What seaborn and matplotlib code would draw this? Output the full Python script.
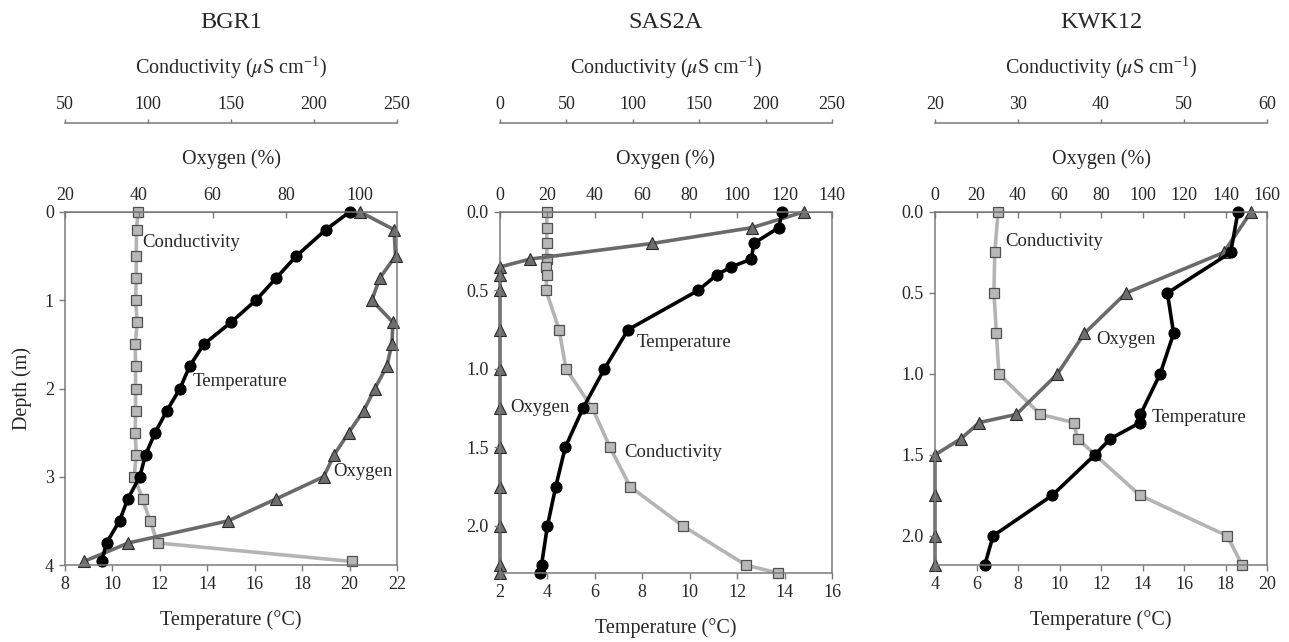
import pandas as pd
import seaborn as sns
import matplotlib.pyplot as plt
from matplotlib.ticker import MultipleLocator, FormatStrFormatter

sns.set_style("ticks")
plt.rcParams["font.family"] = ["Liberation Serif", "DejaVu Serif"]
plt.rcParams["mathtext.fontset"] = "stix"

sites = ["BGR1", "SAS2A", "KWK12"]

# BGR1
bgr1_depth = [0, 0.2, 0.5, 0.75, 1.0, 1.25, 1.5, 1.75, 2.0, 2.25, 2.5, 2.75, 3.0, 3.25, 3.5, 3.75, 3.96]
bgr1_temp = [20.0, 19.0, 17.75, 16.9, 16.05, 15.0, 13.85, 13.25, 12.85, 12.3, 11.8, 11.4, 11.15, 10.65, 10.3, 9.75, 9.55]
bgr1_oxygen = [100.0, 109.2, 109.6, 105.3, 103.2, 108.9, 108.6, 107.2, 104.0, 101.0, 96.9, 93.0, 90.1, 77.3, 64.2, 37.2, 25.1]
bgr1_cond = [93.9, 93.1, 92.9, 92.9, 92.5, 93.5, 92.3, 92.5, 92.5, 92.5, 92.3, 92.9, 91.7, 96.7, 101.2, 105.8, 222.7]

# SAS2A
sas2a_depth = [0, 0.1, 0.2, 0.3, 0.35, 0.4, 0.5, 0.75, 1.0, 1.25, 1.5, 1.75, 2.0, 2.25, 2.3]
sas2a_temp = [13.9, 13.75, 12.7, 12.6, 11.75, 11.15, 10.35, 7.4, 6.4, 5.5, 4.75, 4.35, 4.0, 3.75, 3.7]
sas2a_oxygen = [128.0, 106.2, 64.3, 12.7, 0, 0, 0, 0, 0, 0, 0, 0, 0, 0, 0]
sas2a_cond = [35.2, 35.2, 35.2, 35.2, 34.7, 35.2, 34.7, 44.5, 49.7, 69.6, 82.9, 98.0, 137.7, 185.2, 209.3]

# KWK12
kwk12_depth = [0, 0.25, 0.5, 0.75, 1.0, 1.25, 1.3, 1.4, 1.5, 1.75, 2.0, 2.18]
kwk12_temp = [18.6, 18.25, 15.2, 15.5, 14.85, 13.9, 13.9, 12.45, 11.7, 9.65, 6.8, 6.4]
kwk12_oxygen = [152.3, 139.1, 92.1, 72.0, 59.0, 39.2, 21.4, 12.5, 0, 0, 0, 0]
kwk12_cond = [27.6, 27.2, 27.1, 27.4, 27.7, 32.7, 36.7, 37.2, 39.3, 44.7, 55.2, 57.0]

panels = [
    dict(depth=bgr1_depth, temp=bgr1_temp, oxy=bgr1_oxygen, cond=bgr1_cond,
         box=[65, 212, 332, 353], ymax=4, yfmt="%d", ystep=1,
         tlim=(8, 22), olim=(20, 110), oticks=range(20, 101, 20),
         clim=(50, 250), cstep=50,
         notes=[("Conductivity", 11.27, 0.35), ("Temperature", 13.37, 1.92), ("Oxygen", 19.31, 2.94)]),
    dict(depth=sas2a_depth, temp=sas2a_temp, oxy=sas2a_oxygen, cond=sas2a_cond,
         box=[500, 212, 332, 361], ymax=2.3, yfmt="%.1f", ystep=0.5,
         tlim=(2, 16), olim=(0, 140), oticks=range(0, 141, 20),
         clim=(0, 250), cstep=50,
         notes=[("Temperature", 7.77, 0.83), ("Oxygen", 2.45, 1.245), ("Conductivity", 7.23, 1.53)]),
    dict(depth=kwk12_depth, temp=kwk12_temp, oxy=kwk12_oxygen, cond=kwk12_cond,
         box=[935, 212, 332, 353], ymax=2.18, yfmt="%.1f", ystep=0.5,
         tlim=(4, 20), olim=(0, 160), oticks=range(0, 161, 20),
         clim=(20, 60), cstep=10,
         notes=[("Conductivity", 7.38, 0.18), ("Oxygen", 11.77, 0.79), ("Temperature", 14.42, 1.27)]),
]

W, H = 1289, 642
spine_col = "#7a7a7a"
fig = plt.figure(figsize=(W / 100, H / 100), dpi=100)
fig.patch.set_facecolor("white")

for name, p in zip(sites, panels):
    x, y, w, h = p["box"]
    ax = fig.add_axes([x / W, 1 - (y + h) / H, w / W, h / H])
    ax_o = ax.twiny()
    ax_c = ax.twiny()
    ax.patch.set_visible(False)
    ax_c.set_zorder(1)
    ax_o.set_zorder(2)
    ax.set_zorder(3)

    df = pd.DataFrame({"depth": p["depth"], "temp": p["temp"],
                       "oxy": p["oxy"], "cond": p["cond"]})

    sns.lineplot(data=df, x="cond", y="depth", sort=False, estimator=None, ax=ax_c,
                 color="#b4b4b4", lw=2.6, marker="s", ms=7, mfc="#b8b8b8",
                 mec="#505050", mew=0.9, clip_on=False)
    sns.lineplot(data=df, x="oxy", y="depth", sort=False, estimator=None, ax=ax_o,
                 color="#6a6a6a", lw=2.6, marker="^", ms=8.5, mfc="#6e6e6e",
                 mec="#2a2a2a", mew=0.8, clip_on=False)
    sns.lineplot(data=df, x="temp", y="depth", sort=False, estimator=None, ax=ax,
                 color="black", lw=2.6, marker="o", ms=8, mfc="black",
                 mec="black", clip_on=False)

    ax.set_ylim(p["ymax"], 0)

    # temperature (bottom)
    ax.set_xlim(*p["tlim"])
    ax.xaxis.set_major_locator(MultipleLocator(2))
    ax.yaxis.set_major_locator(MultipleLocator(p["ystep"]))
    ax.yaxis.set_major_formatter(FormatStrFormatter(p["yfmt"]))
    ax.tick_params(axis="both", direction="out", length=4, width=1, color=spine_col,
                   labelsize=13, pad=4, top=False, right=False)
    for s in ax.spines.values():
        s.set_color(spine_col)
        s.set_linewidth(1.1)
    ax.set_xlabel("Temperature (°C)", fontsize=14.5)
    ax.xaxis.set_label_coords(0.5, -55 / h)
    ax.xaxis.label.set_va("center")
    if name == "BGR1":
        ax.set_ylabel("Depth (m)", fontsize=14.5)
        ax.yaxis.set_label_coords(-43 / w, 0.5)
        ax.yaxis.label.set_va("center")
    else:
        ax.set_ylabel("")

    # oxygen (top)
    ax_o.set_xlim(*p["olim"])
    ax_o.set_xticks(list(p["oticks"]))
    ax_o.tick_params(axis="x", direction="in", length=4, width=1, color=spine_col,
                     labelsize=13, pad=6)
    for k in ("bottom", "left", "right"):
        ax_o.spines[k].set_visible(False)
    ax_o.spines["top"].set_color(spine_col)
    ax_o.set_xlabel("Oxygen (%)", fontsize=14.5)
    ax_o.xaxis.set_label_coords(0.5, 1 + 53 / h)
    ax_o.xaxis.label.set_va("center")

    # conductivity (detached top axis)
    ax_c.set_xlim(*p["clim"])
    ax_c.xaxis.set_major_locator(MultipleLocator(p["cstep"]))
    ax_c.spines["top"].set_position(("outward", 64))
    ax_c.spines["top"].set_color(spine_col)
    ax_c.spines["top"].set_linewidth(1.1)
    for k in ("bottom", "left", "right"):
        ax_c.spines[k].set_visible(False)
    ax_c.tick_params(axis="x", direction="out", length=3, width=1, color=spine_col,
                     labelsize=13, pad=4)
    ax_c.set_xlabel(r"Conductivity ($\mu$S cm$^{\mathregular{-1}}$)", fontsize=14.5)
    ax_c.xaxis.set_label_coords(0.5, 1 + 144 / h)
    ax_c.xaxis.label.set_va("center")

    for label, tx, dy in p["notes"]:
        ax.text(tx, dy, label, fontsize=13.5, ha="left", va="center")

    fig.text((x + w / 2) / W, 1 - 22 / H, name, fontsize=17.5, ha="center", va="center")

plt.savefig("out.png", dpi=100)
